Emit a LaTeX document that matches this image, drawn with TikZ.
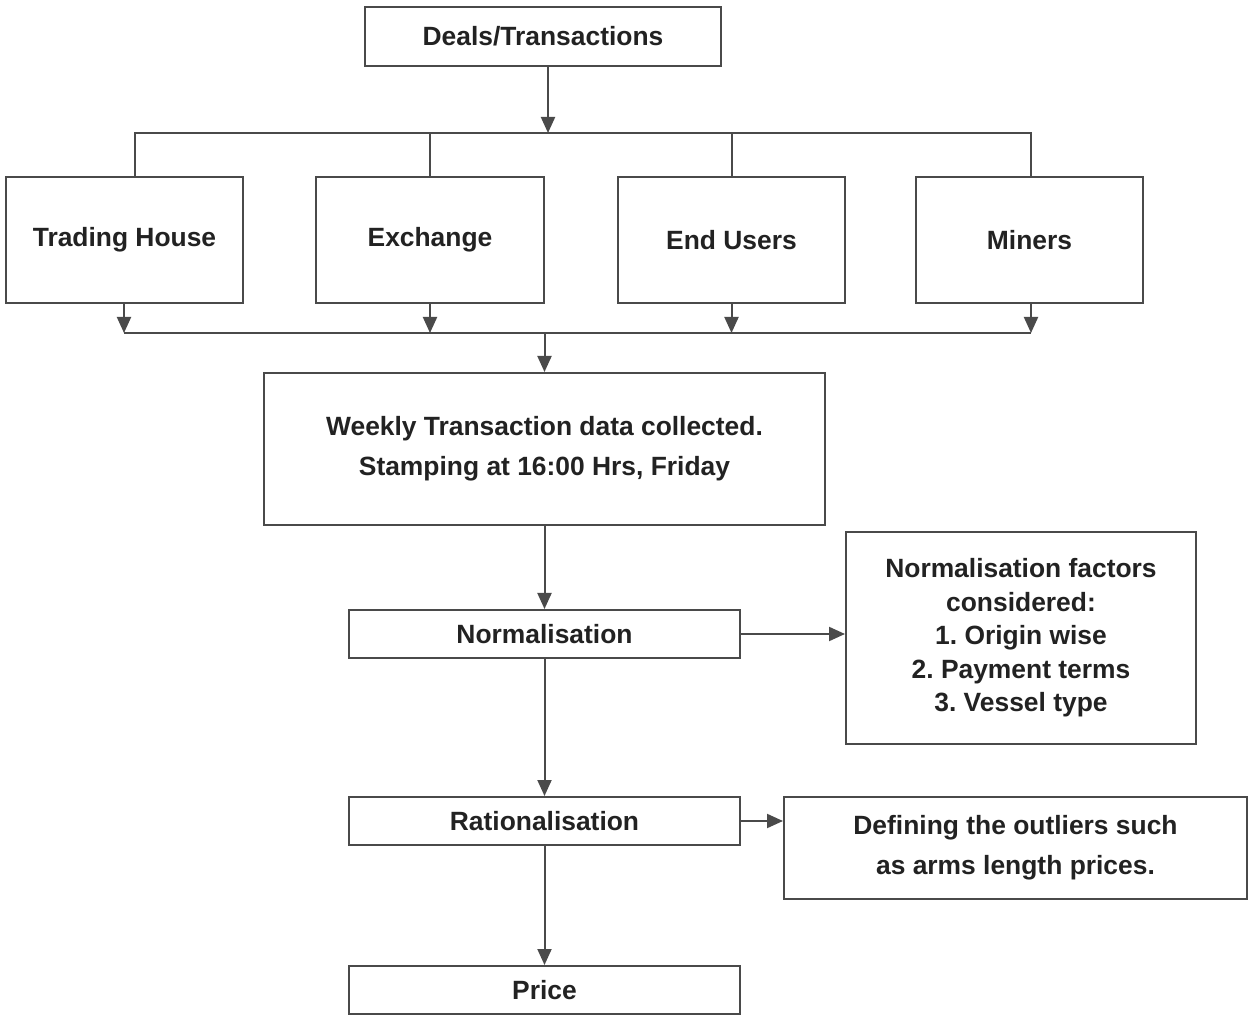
\documentclass[tikz,border=0pt]{standalone}
\usepackage{fontspec}
\setmainfont{Liberation Sans}
\usetikzlibrary{arrows.meta}
\definecolor{ln}{HTML}{4A4A4A}
\definecolor{tx}{HTML}{222222}
\frenchspacing
\begin{document}
\begin{tikzpicture}[x=0.5pt,y=-0.5pt,
  box/.style={draw=ln,line width=1pt,fill=white,inner sep=0pt,align=center,text=tx,font=\bfseries\fontsize{13.2}{20}\selectfont},
  link/.style={draw=ln,line width=1pt},
  arr/.style={link,-{Triangle[width=7pt,length=8pt]}}]
\useasboundingbox (0,0) rectangle (1248,1015);
\fill[white] (0,0) rectangle (1248,1015);
\node[box,minimum width=178pt,minimum height=29.5pt] (deals) at (543,36.5) {Deals/Transactions};
\node[box,minimum width=118.5pt,minimum height=63pt] (th) at (124.5,240) {Trading House};
\node[box,minimum width=114pt,minimum height=63pt] (ex) at (430,240) {Exchange};
\node[box,minimum width=113.5pt,minimum height=63pt] (eu) at (731.5,240) {End Users};
\node[box,minimum width=113.5pt,minimum height=63pt] (mi) at (1029.5,240) {Miners};
\node[box,minimum width=280.5pt,minimum height=76pt] (weekly) at (544.5,449) {Weekly Transaction data collected.\\Stamping at 16:00 Hrs, Friday};
\node[box,minimum width=195.5pt,minimum height=24pt] (norm) at (544.5,634) {Normalisation};
\node[box,minimum width=175pt,minimum height=106pt,font=\bfseries\fontsize{13.2}{16.75}\selectfont] (factors) at (1021,638) {Normalisation factors\\considered:\\1. Origin wise\\2. Payment terms\\3. Vessel type};
\node[box,minimum width=195.5pt,minimum height=24pt] (rat) at (544.5,821) {Rationalisation};
\node[box,minimum width=231.5pt,minimum height=51pt] (def) at (1015.5,848) {Defining the outliers such\\as arms length prices.};
\node[box,minimum width=195.5pt,minimum height=24pt] (price) at (544.5,990) {Price};
% top bus
\coordinate (top) at (548,133);
\coordinate (bt1) at (135,133);
\coordinate (bt4) at (1031,133);
\draw[arr] (deals.south -| top) -- (top);
\draw[link] (bt1 |- th.north) -- (bt1) -- (bt4) -- (bt4 |- mi.north);
\draw[link] (ex.north) -- (ex.north |- bt1);
\draw[link] (eu.north) -- (eu.north |- bt1);
% bottom bus
\coordinate (bb1) at (124,333);
\coordinate (bb4) at (1031,333);
\draw[link] (bb1) -- (bb4);
\draw[arr] (th.south -| bb1) -- (bb1);
\draw[arr] (ex.south) -- (ex.south |- bb1);
\draw[arr] (eu.south) -- (eu.south |- bb1);
\draw[arr] (mi.south -| bb4) -- (bb4);
\draw[arr] (weekly.north |- bb1) -- (weekly.north);
% chain
\draw[arr] (weekly.south) -- (norm.north);
\draw[arr] (norm.east) -- (norm.east -| factors.west);
\draw[arr] (norm.south) -- (rat.north);
\draw[arr] (rat.east) -- (rat.east -| def.west);
\draw[arr] (rat.south) -- (price.north);
\end{tikzpicture}
\end{document}
